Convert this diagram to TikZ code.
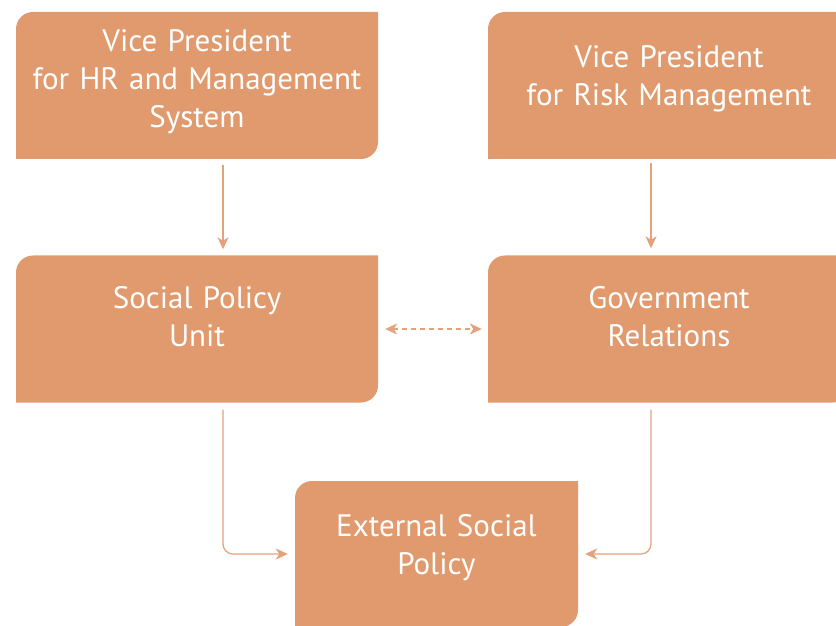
\documentclass[tikz,border=0pt]{standalone}
\usepackage{fontspec}
\setmainfont{PT Sans}
\usetikzlibrary{arrows.meta}

\definecolor{cardfill}{RGB}{224,154,110}
\definecolor{linkcol}{RGB}{228,162,124}

\tikzset{
  >={Stealth[length=12pt,width=11pt,inset=3.5pt]},
  card/.style={minimum width=362pt, minimum height=147pt, inner sep=0pt,
    text width=350pt, align=center, text=white,
    font=\fontsize{31}{38}\selectfont,
    path picture={
      \fill[cardfill] (path picture bounding box.south west)
        -- ([yshift=-17pt]path picture bounding box.north west)
        arc[start angle=180, end angle=90, radius=17pt]
        -- (path picture bounding box.north east)
        -- ([yshift=17pt]path picture bounding box.south east)
        arc[start angle=0, end angle=-90, radius=17pt]
        -- cycle;
    }},
  link/.style={draw=linkcol, line width=1.2pt, ->},
}

\begin{document}
\begin{tikzpicture}[x=1pt, y=1pt]
    \useasboundingbox (0,0) rectangle (836,625);
    \clip (0,0) rectangle (836,625);

    \node[card, text depth=89pt] (hr) at (197,539.5) {Vice President\\for HR and Management\\System};
    \node[card, text depth=57pt] (risk) at (669,539.5) {Vice President\\for Risk Management};
    \node[card, text depth=64pt] (spu) at (197,296) {Social Policy\\Unit};
    \node[card, text depth=64pt] (gov) at (669,296) {Government\\Relations};
    \node[card, minimum width=283pt, minimum height=146pt, text width=270pt,
      text depth=58pt] (ext) at (436.5,71) {External Social\\Policy};

    \draw[link] ([xshift=26pt, yshift=-6pt]hr.south) -- ([xshift=26pt, yshift=6pt]spu.north);
    \draw[link] ([xshift=-18pt, yshift=-4pt]risk.south) -- ([xshift=-18pt, yshift=7pt]gov.north);

    \draw[link, <->, dash pattern=on 5pt off 4pt] ([xshift=7pt]spu.east) -- ([xshift=-6pt]gov.west);

    \draw[link, rounded corners=10pt] ([xshift=26pt, yshift=-7pt]spu.south) |- ([xshift=-7pt]ext.west);
    \draw[link, rounded corners=10pt] ([xshift=-18pt, yshift=-7pt]gov.south) |- ([xshift=7pt]ext.east);
\end{tikzpicture}
\end{document}
